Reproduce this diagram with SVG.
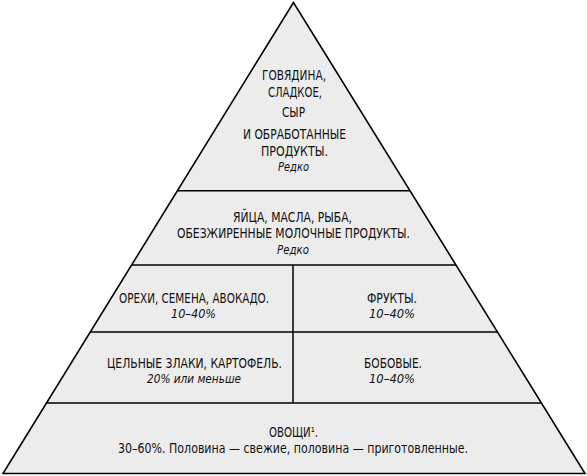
<svg xmlns="http://www.w3.org/2000/svg" width="587" height="476" viewBox="0 0 587 476">
<style>
.t{font-family:"DejaVu Sans Condensed","DejaVu Sans","Liberation Sans",sans-serif;font-stretch:condensed;font-size:14px;fill:#111;text-anchor:middle}
.i{font-style:italic;font-size:12.5px}
.s{font-size:13.5px}
.ln{stroke:#000;stroke-width:1.5;fill:none}
</style>
<rect width="587" height="476" fill="#fff"/>
<g id="pyramid">
<polygon points="293.5,2.5 3,473.5 585,473.5" fill="#ececec" stroke="#000" stroke-width="1.6" stroke-linejoin="miter"/>
</g>
<g id="connectors">
<line class="ln" x1="177.4" y1="190.7" x2="410" y2="190.7"/>
<line class="ln" x1="131.6" y1="265" x2="456" y2="265"/>
<line class="ln" x1="90.3" y1="332" x2="497.4" y2="332"/>
<line class="ln" x1="46.5" y1="403" x2="541.4" y2="403"/>
<line class="ln" x1="293" y1="265" x2="293" y2="403"/>
</g>
<g id="top">
<text class="t" x="294" y="80" textLength="64" lengthAdjust="spacingAndGlyphs">ГОВЯДИНА,</text>
<text class="t" x="295" y="96.5" textLength="54" lengthAdjust="spacingAndGlyphs">СЛАДКОЕ,</text>
<text class="t" x="293.5" y="117" textLength="23" lengthAdjust="spacingAndGlyphs">СЫР</text>
<text class="t" x="294.5" y="139" textLength="103" lengthAdjust="spacingAndGlyphs">И ОБРАБОТАННЫЕ</text>
<text class="t" x="294.5" y="156" textLength="67" lengthAdjust="spacingAndGlyphs">ПРОДУКТЫ.</text>
<text class="t i" x="293.5" y="171" textLength="31" lengthAdjust="spacingAndGlyphs">Редко</text>
</g>
<g id="second">
<text class="t" x="292.5" y="222" textLength="119" lengthAdjust="spacingAndGlyphs">ЯЙЦА, МАСЛА, РЫБА,</text>
<text class="t" x="293.5" y="238" textLength="233" lengthAdjust="spacingAndGlyphs">ОБЕЗЖИРЕННЫЕ МОЛОЧНЫЕ ПРОДУКТЫ.</text>
<text class="t i" x="293" y="254" textLength="32" lengthAdjust="spacingAndGlyphs">Редко</text>
</g>
<g id="nuts">
<text class="t" x="194" y="303" textLength="150" lengthAdjust="spacingAndGlyphs">ОРЕХИ, СЕМЕНА, АВОКАДО.</text>
<text class="t i" x="193.5" y="318" textLength="45" lengthAdjust="spacingAndGlyphs">10–40%</text>
</g>
<g id="fruits">
<text class="t" x="392" y="303" textLength="50" lengthAdjust="spacingAndGlyphs">ФРУКТЫ.</text>
<text class="t i" x="392" y="318" textLength="46" lengthAdjust="spacingAndGlyphs">10–40%</text>
</g>
<g id="grains">
<text class="t" x="194.5" y="368" textLength="175" lengthAdjust="spacingAndGlyphs">ЦЕЛЬНЫЕ ЗЛАКИ, КАРТОФЕЛЬ.</text>
<text class="t i" x="194" y="382.5" textLength="94" lengthAdjust="spacingAndGlyphs">20% или меньше</text>
</g>
<g id="legumes">
<text class="t" x="393" y="368" textLength="58" lengthAdjust="spacingAndGlyphs">БОБОВЫЕ.</text>
<text class="t i" x="392" y="383" textLength="46" lengthAdjust="spacingAndGlyphs">10–40%</text>
</g>
<g id="vegetables">
<text class="t" x="293.5" y="436.5" textLength="49" lengthAdjust="spacingAndGlyphs">ОВОЩИ¹.</text>
<text class="t s" x="293" y="452.5" textLength="350" lengthAdjust="spacingAndGlyphs">30–60%. Половина — свежие, половина — приготовленные.</text>
</g>
</svg>
